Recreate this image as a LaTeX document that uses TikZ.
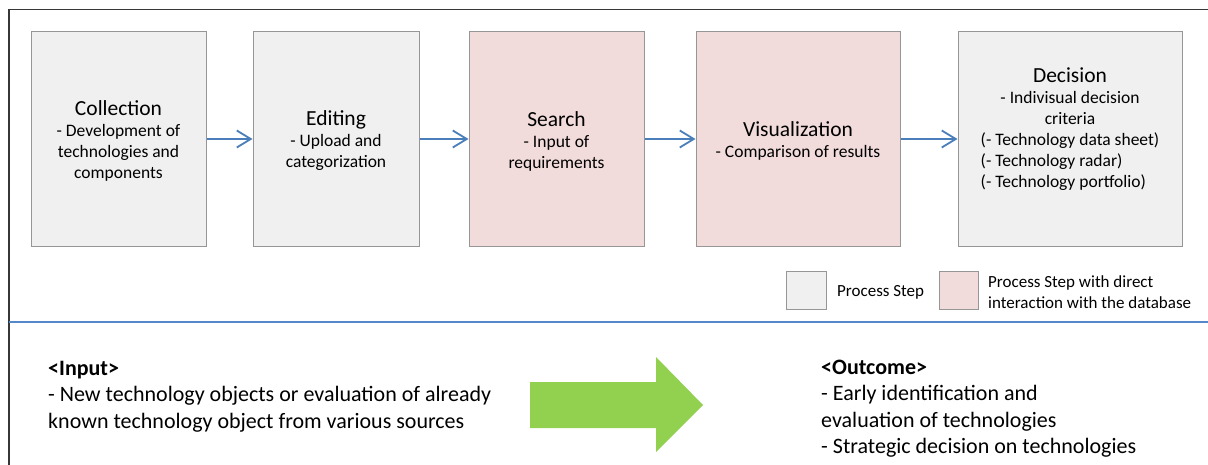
\documentclass[tikz,border=0pt]{standalone}
\usepackage{fontspec}
\setmainfont{Carlito}
\usetikzlibrary{arrows.meta}

\definecolor{stepfill}{RGB}{240,240,240}
\definecolor{dbfill}{RGB}{242,220,219}
\definecolor{boxline}{RGB}{150,150,150}
\definecolor{flowblue}{RGB}{74,126,187}
\definecolor{ruleblue}{RGB}{85,135,205}
\definecolor{gogreen}{RGB}{146,208,80}
\definecolor{frameline}{RGB}{55,55,55}

\newcommand\steptitle{\fontsize{21.5}{21}\selectfont}

\tikzset{
  procbox/.style={draw=boxline, line width=1pt, minimum height=215pt, inner sep=0pt},
  boxtext/.style={align=center, font=\fontsize{17.5}{21}\selectfont, inner sep=0pt},
  flow/.style={draw=flowblue, line width=1.8pt, -{Straight Barb[length=14pt,width=17pt]}},
  legbox/.style={draw=boxline, line width=1pt, minimum width=40pt, minimum height=37pt, inner sep=0pt},
  legtext/.style={align=left, font=\fontsize{17}{20.5}\selectfont, inner sep=0pt},
  bottomtext/.style={align=left, font=\fontsize{22}{26.5}\selectfont, inner sep=0pt},
}

\begin{document}
\begin{tikzpicture}[x=1pt,y=-1pt]
\useasboundingbox (0,0) rectangle (1208,465);

% frame on the left and top
\draw[frameline, line width=1.4pt] (9,465) -- (9,9.5) -- (1208,9.5);

% process steps
\node[procbox, fill=stepfill, minimum width=175pt] (col)  at (118.5,139) {};
\node[procbox, fill=stepfill, minimum width=166pt] (edit) at (336,139) {};
\node[procbox, fill=dbfill,   minimum width=175pt] (srch) at (556.5,139) {};
\node[procbox, fill=dbfill,   minimum width=204pt] (vis)  at (798,139) {};
\node[procbox, fill=stepfill, minimum width=224pt] (dec)  at (1070,139) {};

\node[boxtext] (colt) at ([yshift=-2pt]col.center)
  {{\steptitle Collection}\\- Development of\\technologies and\\components};
\node[boxtext] (editt) at ([yshift=-2pt]edit.center)
  {{\steptitle Editing}\\- Upload and\\categorization};
\node[boxtext] (srcht) at ([yshift=-2pt]srch.center)
  {{\steptitle Search}\\- Input of\\requirements};
\node[boxtext] (vist) at ([yshift=-2pt]vis.center)
  {{\steptitle Visualization}\\- Comparison of results};
\node[boxtext] (dect) at ([yshift=8pt]dec.center)
  {{\steptitle Decision}\\- Indivisual decision\\criteria\\%
   \begin{tabular}[t]{@{}l@{}}(- Technology data sheet)\\(- Technology radar)\\(- Technology portfolio)\end{tabular}};

% flow between the steps
\draw[flow] (col.east) -- (edit.west);
\draw[flow] (edit.east) -- (srch.west);
\draw[flow] (srch.east) -- (vis.west);
\draw[flow] (vis.east) -- (dec.west);

% legend
\node[legbox, fill=stepfill] (lg1) at (806,290.5) {};
\node[legtext, anchor=west] (lg1t) at (837,292) {Process Step};
\node[legbox, fill=dbfill, minimum width=39pt] (lg2) at (958.5,290.5) {};
\node[legtext, anchor=west] (lg2t) at (988,292) {Process Step with direct\\interaction with the database};

% separator
\coordinate (sepl) at (9,322);
\coordinate (sepr) at (1208,322);
\draw[ruleblue, line width=1.5pt] (sepl) -- (sepr);

% input and outcome (anchored on the baseline of their last line)
\node[bottomtext, anchor=base west] (inp) at (48,428)
  {\textbf{<Input>}\\- New technology objects or evaluation of already\\known technology object from various sources};
\node[bottomtext, anchor=base west] (outc) at (821,453.5)
  {\textbf{<Outcome>}\\- Early identification and\\evaluation of technologies\\- Strategic decision on technologies};

% big arrow from input to outcome
\fill[gogreen] (530,382) -- (656,382) -- (656,357) -- (703,405) -- (656,452)
  -- (656,428) -- (530,428) -- cycle;
\end{tikzpicture}
\end{document}
